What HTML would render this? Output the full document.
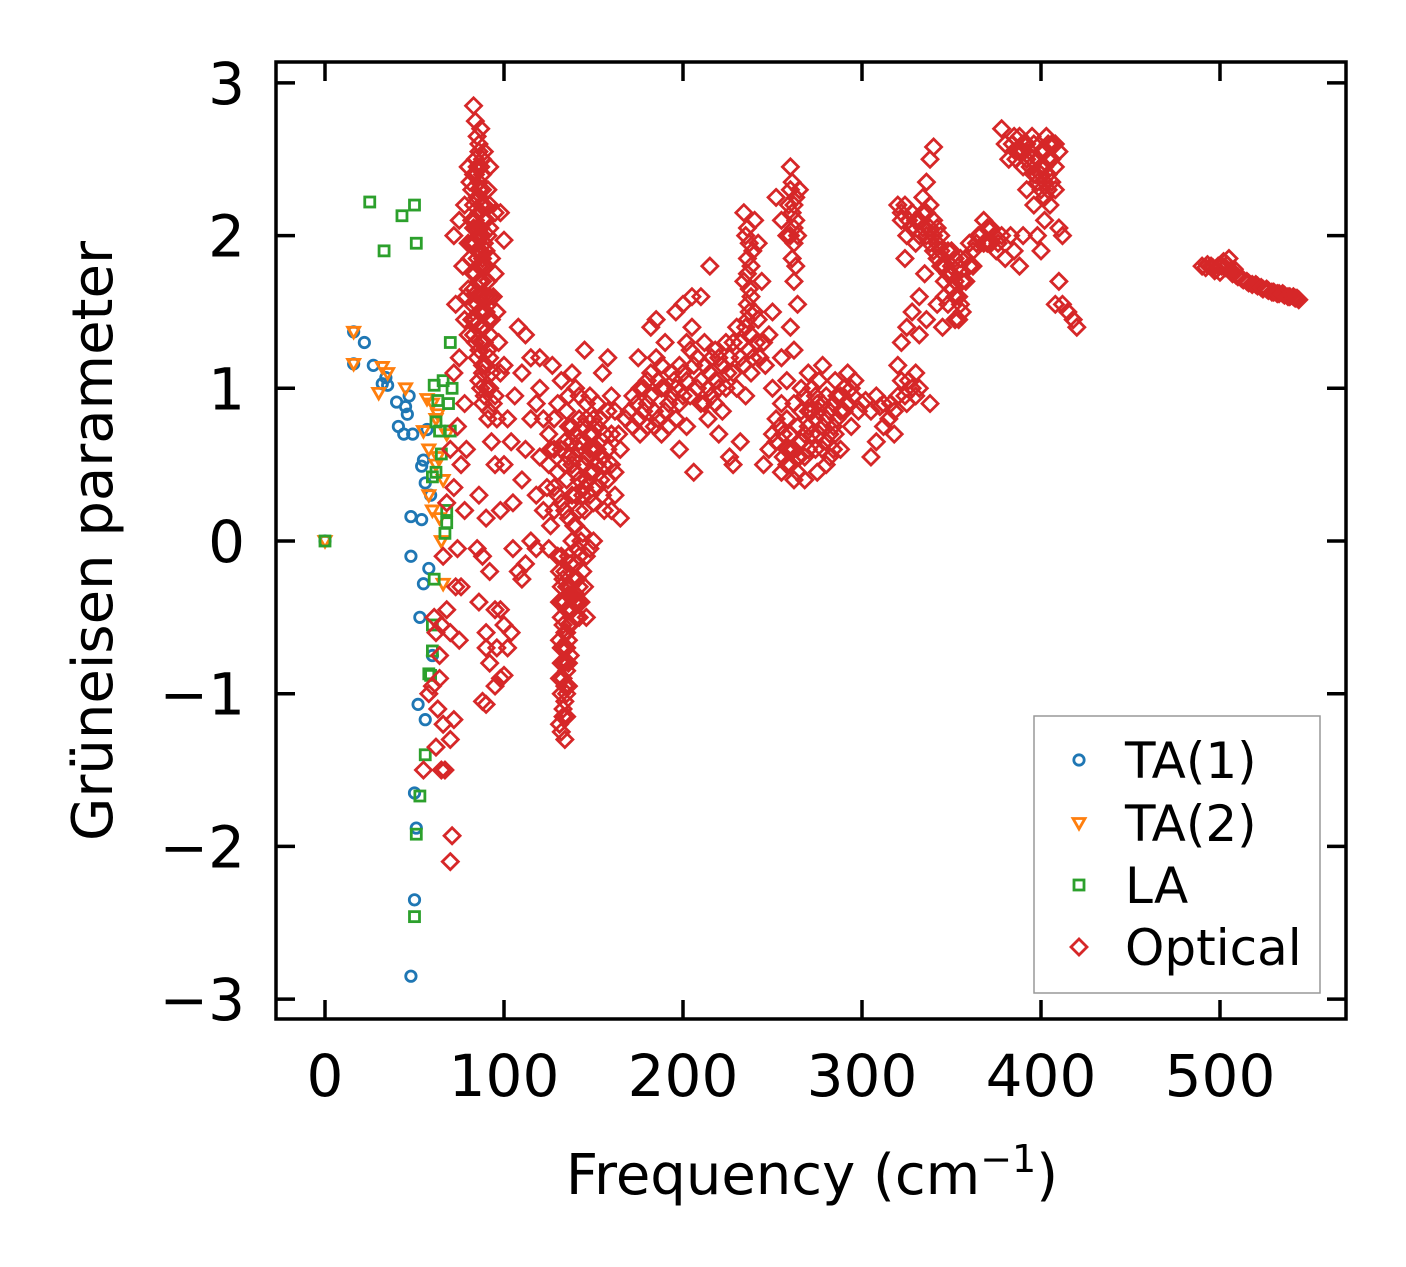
<!DOCTYPE html>
<html><head><meta charset="utf-8">
<style>
html,body{margin:0;padding:0;background:#fff;}
svg{display:block;font-family:"DejaVu Sans","Liberation Sans",sans-serif;}
</style></head>
<body>
<svg id="chart" width="1406" height="1267" viewBox="0 0 1406 1267" xmlns="http://www.w3.org/2000/svg">
<rect x="0" y="0" width="1406" height="1267" fill="#fff"/>
<g id="marks"></g>
<g id="axes"></g>
<g id="legend">
<rect x="1034" y="716" width="286" height="277" fill="#fff" stroke="#999" stroke-width="1.5"/>
</g>
<text x="812" y="1194" font-size="56" text-anchor="middle">Frequency (cm<tspan dy="-22" font-size="38">−1</tspan><tspan dy="22">)</tspan></text>
<text transform="translate(112,541) rotate(-90)" font-size="56" text-anchor="middle">Grüneisen parameter</text>
</svg>
<script>
const xTicks=[0,100,200,300,400,500];
const yTicks=[-3,-2,-1,0,1,2,3];
const yTickLabels=["−3","−2","−1","0","1","2","3"];
const ta1=[[0,0],[16,1.37],[16,1.16],[22,1.3],[27,1.15],[32,1.03],[34,1.07],[35,1.02],[40,0.91],[41,0.75],[44,0.7],[45,0.88],[46,0.83],[47,0.95],[48,0.16],[48,-0.1],[49,0.7],[50,-1.65],[51,-1.88],[50,-2.35],[48,-2.85],[52,-1.07],[53,-0.5],[54,0.14],[54,0.49],[55,0.53],[56,0.38],[55,-0.28],[56,-1.17],[57,0.73],[58,-0.18],[60,-0.75],[59,0.3]];
const ta2=[[0,0],[16,1.37],[16,1.16],[30,0.97],[32,1.14],[35,1.1],[45,1.0],[55,0.72],[57,0.93],[58,0.6],[58,0.3],[60,0.9],[60,0.2],[62,0.8],[62,0.5],[63,0.55],[64,0.15],[65,0.0],[66,-0.28],[66,0.4],[68,0.7],[63,0.83]];
const la=[[0,0],[25,2.22],[33,1.9],[43,2.13],[50,2.2],[51,1.95],[53,-1.67],[51,-1.92],[50,-2.46],[56,-1.4],[58,-0.87],[59,-0.88],[60,-0.72],[60,-0.55],[61,-0.25],[61,1.02],[62,0.78],[63,0.92],[64,0.72],[65,0.57],[66,1.05],[67,0.05],[68,0.2],[68,0.12],[69,0.9],[70,1.3],[70,0.72],[71,1.0],[60,0.42],[62,0.45]];
const optical=[
[70,-2.1],[71,-1.93],[67,-1.5],[65,-1.5],[62,-1.35],[55,-1.5],[58,-1.0],[60,-0.95],[70,-1.3],[72,-1.17],[64,-0.9],[62,-0.6],[65,-0.55],[68,-0.45],[70,-0.6],[75,-0.65],[73,-0.3],[74,-0.05],[66,-0.1],[68,0.25],[72,0.35],[76,0.5],[70,0.6],[74,0.75],[78,0.9],[72,1.1],[75,1.2],[80,1.35],[73,1.55],[75,2.1],[72,2.0],[78,2.2],[77,1.8],[64,-0.75],[61,-0.5],[66,-1.2],[63,-1.1],[78,0.2],[76,-0.3],[79,0.6],
[83,2.85],[84,2.75],[85,2.65],[86,2.6],[84,2.5],[87,2.45],[83,2.4],[86,2.35],[88,2.3],[82,2.3],[85,2.25],[89,2.2],[83,2.2],[86,2.15],[90,2.1],[82,2.1],[85,2.05],[88,2.0],[92,2.05],[84,1.95],[87,1.9],[90,1.9],[81,1.85],[85,1.85],[93,1.85],[88,1.8],[83,1.75],[86,1.7],[91,1.7],[80,1.65],[84,1.62],[88,1.6],[94,1.6],[82,1.55],[86,1.5],[90,1.5],[85,1.42],[89,1.4],[92,1.35],[83,1.35],[87,1.3],[91,1.25],[85,1.2],[88,1.15],[93,1.1],[86,1.05],[90,1.0],[95,0.95],[88,0.9],[92,0.85],[96,0.8],[80,2.45],[81,2.35],[91,2.3],[92,2.2],[95,2.15],[98,2.15],[100,1.97],[96,1.5],[95,1.75],[97,1.3],[98,1.1],[80,1.95],[79,1.6],[78,1.45],[92,2.45],[89,2.55],[87,2.7],
[84,2.4],[86,2.3],[88,2.4],[87,2.2],[89,2.1],[84,2.1],[86,2.0],[89,1.95],[85,1.9],[88,1.85],[90,1.8],[86,1.8],[84,1.75],[88,1.7],[90,1.6],[86,1.6],[85,1.55],[88,1.5],[91,1.45],[87,1.4],[84,1.45],[89,1.3],[86,1.25],[90,1.15],[88,1.1],[92,1.0],[89,0.95],[87,1.0],[94,0.9],[91,0.8],[84,1.3],[82,1.45],[83,1.65],[82,1.95],[83,2.05],[87,2.05],[88,2.5],[86,2.55],[85,2.45],[91,2.0],[92,1.6],[93,1.45],[92,1.2],
[85,-0.05],[88,-0.1],[90,-0.6],[92,-0.8],[95,-0.45],[98,-0.45],[100,-0.55],[102,-0.7],[98,-0.9],[100,-0.88],[95,-0.95],[88,-1.05],[90,-1.07],[105,-0.05],[108,-0.2],[110,-0.25],[112,-0.15],[92,-0.2],[98,0.2],[95,0.5],[100,0.5],[105,0.25],[110,0.4],[90,-0.7],[86,-0.4],[104,-0.6],[96,-0.7],[86,0.3],[90,0.15],[93,0.65],[102,0.8],[106,0.95],[110,1.1],[115,1.2],[108,1.4],[112,1.35],[100,1.15],[104,0.65],[115,0.8],[112,0.6],
[118,0.9],[120,1.0],[122,0.8],[125,0.7],[128,0.6],[130,0.9],[132,1.05],[135,0.85],[138,0.75],[140,1.0],[142,0.6],[145,0.5],[148,0.7],[150,0.8],[152,0.9],[155,1.1],[158,1.2],[160,0.7],[155,0.55],[150,0.45],[145,0.35],[140,0.3],[135,0.4],[130,0.45],[125,0.5],[120,0.55],[118,0.3],[122,0.2],[126,0.1],[128,0.35],[132,0.25],[136,0.15],[140,0.1],[145,0.2],[150,0.25],[155,0.3],[160,0.2],[165,0.15],[162,0.45],[165,0.6],[168,0.8],[115,0.0],[118,-0.05],[125,-0.05],[120,1.2],[127,1.15],[145,1.25],[138,1.1],[128,0.8],[134,0.65],[142,0.8],[148,0.95],[152,0.6],[158,0.4],
[132,0.6],[136,0.55],[138,0.5],[140,0.45],[142,0.4],[144,0.5],[146,0.55],[148,0.45],[150,0.6],[152,0.5],[154,0.4],[156,0.5],[158,0.6],[160,0.5],[162,0.3],[136,0.75],[138,0.65],[140,0.7],[142,0.65],[144,0.75],[146,0.8],[148,0.6],[150,0.7],[152,0.75],[154,0.8],[156,0.7],[140,0.55],[144,0.3],[146,0.4],[148,0.3],[152,0.35],[156,0.2],[134,0.2],[138,0.3],[142,0.2],[128,0.2],[130,0.3],[124,0.35],[126,0.6],[134,0.5],[136,0.95],[142,0.95],[146,0.9],[158,0.85],[160,0.95],[162,0.85],[164,0.7],
[130,-0.1],[131,-0.2],[132,-0.3],[133,-0.4],[132,-0.5],[134,-0.6],[133,-0.7],[132,-0.8],[133,-0.9],[132,-1.0],[133,-1.1],[131,-1.2],[132,-1.25],[135,-1.15],[134,-1.05],[136,-0.95],[135,-0.85],[137,-0.75],[136,-0.65],[137,-0.55],[138,-0.45],[138,-0.35],[139,-0.25],[140,-0.15],[141,-0.05],[140,-0.5],[142,-0.3],[143,-0.4],[144,-0.2],[146,-0.1],[148,-0.05],[150,0.0],[146,-0.5],[135,-0.3],[136,-0.1],[134,-1.3],[131,-0.65],
[134,-0.2],[135,-0.45],[134,-0.8],[135,-1.0],[136,-0.35],[137,-0.15],[138,0.0],[139,0.1],[140,-0.35],[141,-0.25],[142,-0.1],[143,0.0],[144,0.05],[133,-1.15],[134,-0.95],[133,-0.55],[135,-0.7],[136,-0.55],[137,-0.3],[136,-0.8],[135,-0.6],[134,-0.4],[133,-0.25],[132,-0.1],[131,-0.4],[132,-0.7],[131,-0.9],[139,-0.4],[141,-0.4],[142,-0.5],[145,-0.3],
[170,0.85],[172,0.95],[175,0.8],[178,1.0],[180,0.9],[182,1.1],[185,1.2],[188,1.0],[190,0.85],[192,0.75],[195,1.05],[198,1.15],[200,0.95],[202,1.3],[205,1.4],[208,1.2],[210,1.05],[212,0.9],[215,1.1],[218,1.25],[220,1.0],[222,0.85],[225,1.1],[228,1.3],[230,1.4],[232,1.2],[235,0.95],[182,1.4],[185,1.45],[190,1.3],[196,1.5],[200,1.55],[205,1.6],[210,1.6],[215,1.8],[176,0.7],[184,0.75],[198,0.6],[202,0.75],[206,0.45],[214,0.8],[220,0.7],[226,0.55],[228,0.5],[232,0.65],[175,1.2],[188,0.7],[194,0.95],[216,0.95],[224,1.3],
[172,0.75],[174,0.9],[176,1.0],[178,0.85],[180,1.05],[182,0.95],[184,0.85],[186,1.05],[188,1.15],[190,1.0],[192,0.9],[194,1.1],[196,1.0],[198,0.9],[200,1.1],[202,1.05],[204,0.95],[206,1.15],[208,1.0],[210,0.9],[212,1.15],[214,1.0],[216,1.2],[218,1.05],[220,1.2],[222,1.15],[224,1.0],[226,1.2],[228,1.1],[230,1.0],[232,1.3],[234,1.15],[180,0.75],[186,0.8],[196,0.8],[204,1.25],[212,1.3],[218,0.9],
[234,2.15],[235,2.0],[236,1.85],[234,1.7],[236,1.55],[235,1.4],[237,1.25],[238,1.1],[240,2.1],[242,1.95],[238,1.8],[244,1.7],[240,1.5],[245,1.3],[246,1.15],[248,1.35],[250,1.5],[252,2.25],[255,2.1],[258,2.0],[260,2.45],[261,2.35],[262,2.2],[263,2.1],[264,2.0],[262,1.7],[264,1.55],[260,1.4],[262,1.25],[265,2.3],[255,1.2],[258,1.05],
[236,2.05],[237,1.95],[236,1.75],[237,1.65],[236,1.45],[238,1.35],[237,1.5],[239,1.2],[238,1.6],[239,1.9],[241,1.3],[242,1.45],[243,1.2],[260,2.3],[261,2.15],[262,2.05],[263,2.25],[259,2.2],[260,2.0],[262,1.95],[261,1.85],[263,1.8],
[245,0.5],[248,0.6],[250,0.7],[252,0.8],[255,0.9],[258,0.6],[260,0.5],[262,0.4],[265,0.55],[268,0.7],[270,0.85],[272,1.0],[275,0.9],[278,0.75],[280,0.65],[282,0.55],[285,0.7],[288,0.85],[290,1.0],[292,1.1],[295,0.95],[298,0.85],[255,0.45],[268,0.4],[275,0.45],[280,0.5],[270,1.1],[278,1.15],[285,1.05],[250,1.0],[262,0.9],[266,1.0],[274,0.6],[288,0.6],[294,0.75],[284,0.9],[276,1.05],[264,0.75],
[252,0.65],[254,0.75],[256,0.7],[258,0.8],[260,0.7],[262,0.6],[264,0.55],[266,0.65],[268,0.55],[270,0.6],[272,0.7],[274,0.8],[276,0.7],[278,0.9],[280,0.8],[282,0.7],[284,0.75],[286,0.8],[288,0.95],[290,0.85],[292,0.9],[294,1.0],[296,1.05],[270,0.75],[272,0.85],[274,0.95],[276,0.85],[278,0.6],[280,0.95],[282,0.85],[284,0.6],[286,0.95],[266,0.85],[268,0.95],[258,0.5],[256,0.55],[260,0.6],[264,0.45],
[300,0.9],[305,0.85],[308,0.95],[312,0.9],[315,0.8],[318,0.85],[320,0.95],[322,1.05],[325,0.9],[328,1.0],[330,1.1],[305,0.55],[308,0.65],[312,0.75],[318,0.7],[320,1.15],[322,1.3],[325,1.4],[328,1.5],[332,1.6],[335,1.75],[338,0.9],
[302,0.92],[310,0.88],[316,0.9],[324,0.95],[326,1.05],[330,0.95],[332,1.0],
[320,2.2],[322,2.1],[325,2.0],[328,2.15],[330,1.95],[332,2.1],[334,2.25],[336,2.35],[338,2.5],[340,2.58],[340,2.1],[342,1.95],[344,1.8],[346,1.7],[348,1.9],[350,1.75],[352,1.6],[354,1.45],[355,1.85],[358,1.7],[360,1.95],[362,1.8],[365,2.0],[368,2.1],[370,1.95],[372,2.05],[375,1.9],[378,2.0],[380,1.85],[383,2.0],[385,1.9],[388,1.8],[390,2.0],[342,1.55],[345,1.4],[336,1.45],[332,1.35],[350,1.9],[355,1.55],[338,2.2],[344,2.0],[324,1.85],
[322,2.15],[324,2.2],[326,2.1],[328,2.05],[330,2.1],[332,2.0],[334,2.05],[336,2.0],[338,1.95],[340,1.9],[342,1.85],[344,1.9],[346,1.8],[348,1.75],[350,1.65],[352,1.7],[354,1.6],[356,1.5],[346,1.6],[348,1.55],[352,1.45],[356,1.7],[358,1.85],[360,1.8],[362,1.9],[364,1.95],[366,2.0],[368,1.95],[370,2.05],[372,1.95],[374,2.0],[376,1.95],[340,2.0],[338,2.05],[336,2.15],[334,2.15],[342,2.05],[352,1.85],[354,1.8],[350,1.8],
[378,2.7],[380,2.6],[382,2.5],[385,2.65],[388,2.55],[390,2.45],[392,2.6],[395,2.5],[397,2.4],[400,2.55],[402,2.35],[404,2.5],[406,2.6],[408,2.45],[410,2.55],[405,2.2],[402,2.1],[398,2.0],[400,2.3],[408,2.3],[410,2.05],[412,2.0],[410,1.7],[408,1.55],[412,1.55],[415,1.5],[418,1.45],[420,1.4],[395,2.65],[403,2.65],[392,2.3],[396,2.2],[400,1.9],
[384,2.6],[386,2.55],[388,2.65],[390,2.6],[392,2.5],[394,2.55],[396,2.6],[398,2.5],[400,2.45],[402,2.55],[404,2.6],[406,2.5],[408,2.6],[404,2.4],[402,2.45],[406,2.35],[400,2.4],[398,2.35],[396,2.4],[394,2.45],[390,2.55],[386,2.5],[404,2.3],[402,2.25],
[490,1.8],[493,1.81],[496,1.79],[499,1.8],[502,1.83],[504,1.81],[506,1.77],[509,1.74],[512,1.72],[515,1.7],[518,1.68],[521,1.67],[524,1.65],[527,1.64],[530,1.63],[533,1.62],[536,1.61],[539,1.6],[542,1.59],[544,1.58],[497,1.77],[500,1.76],[505,1.85],[508,1.78],
[492,1.79],[495,1.8],[498,1.78],[501,1.8],[503,1.79],[507,1.75],[510,1.73],[513,1.71],[516,1.69],[520,1.68],[523,1.66],[526,1.65],[529,1.63],[532,1.62],[535,1.62],[538,1.6],[541,1.6],[543,1.59]
];
const NS="http://www.w3.org/2000/svg";
const PL=276,PR=1346,PT=62,PB=1019;
function xs(v){return 325+v*1.79;}
function ys(v){return 541-v*152.7;}
const marks=document.getElementById('marks');
function mk(tag,attrs,parent){const e=document.createElementNS(NS,tag);for(const k in attrs)e.setAttribute(k,attrs[k]);parent.appendChild(e);return e;}
function marker(kind,cx,cy,col,parent){
  let e;
  if(kind==='circle'){e=mk('circle',{cx:cx,cy:cy,r:5.2,fill:'none',stroke:col,'stroke-width':2.8},parent);}
  else if(kind==='tri'){e=mk('polygon',{points:`${cx-6},${cy-4.5} ${cx+6},${cy-4.5} ${cx},${cy+6}`,fill:'none',stroke:col,'stroke-width':2.8},parent);}
  else if(kind==='square'){e=mk('rect',{x:cx-5,y:cy-5,width:10,height:10,fill:'none',stroke:col,'stroke-width':2.8},parent);}
  else {e=mk('polygon',{points:`${cx},${cy-8} ${cx+8},${cy} ${cx},${cy+8} ${cx-8},${cy}`,fill:'none',stroke:col,'stroke-width':2.8},parent);}
  return e;
}
const series=[[optical,'diamond','#d62728','optical-point'],[la,'square','#2ca02c','la-point'],[ta2,'tri','#ff7f0e','ta2-point'],[ta1,'circle','#1f77b4','ta1-point']];
[3,2,1,0].forEach(i=>{
  const s=series[i];
  s[0].forEach(p=>{
    const e=marker(s[1],xs(p[0]),ys(p[1]),s[2],marks);
    
    
  });
});
const axes=document.getElementById('axes');
const frame=mk('rect',{x:PL,y:PT,width:PR-PL,height:PB-PT,fill:'none',stroke:'#000','stroke-width':3.5},axes);


xTicks.forEach(t=>{
  const x=xs(t);
  const a=mk('line',{x1:x,y1:PB,x2:x,y2:PB-19,stroke:'#000','stroke-width':3.5},axes);
  
  
  const b=mk('line',{x1:x,y1:PT,x2:x,y2:PT+19,stroke:'#000','stroke-width':3.5},axes);
  
  
  const l=mk('text',{x:x,y:1096,'font-size':58,'text-anchor':'middle'},axes);
  l.textContent=String(t);
  
  
});
yTicks.forEach((t,i)=>{
  const y=ys(t);
  const a=mk('line',{x1:PL,y1:y,x2:PL+19,y2:y,stroke:'#000','stroke-width':3.5},axes);
  
  
  const b=mk('line',{x1:PR,y1:y,x2:PR-19,y2:y,stroke:'#000','stroke-width':3.5},axes);
  
  
  const l=mk('text',{x:245,y:y+21,'font-size':58,'text-anchor':'end'},axes);
  l.textContent=yTickLabels[i];
  
  
});
const legend=document.getElementById('legend');
const legendItems=[['TA(1)','circle','#1f77b4',760],['TA(2)','tri','#ff7f0e',823],['LA','square','#2ca02c',885],['Optical','diamond','#d62728',947]];
legendItems.forEach(it=>{
  const m=marker(it[1],1079,it[3],it[2],legend);
  
  
  const t=mk('text',{x:1125,y:it[3]+18,'font-size':50},legend);
  t.textContent=it[0];
  
  
});
</script>
</body></html>
